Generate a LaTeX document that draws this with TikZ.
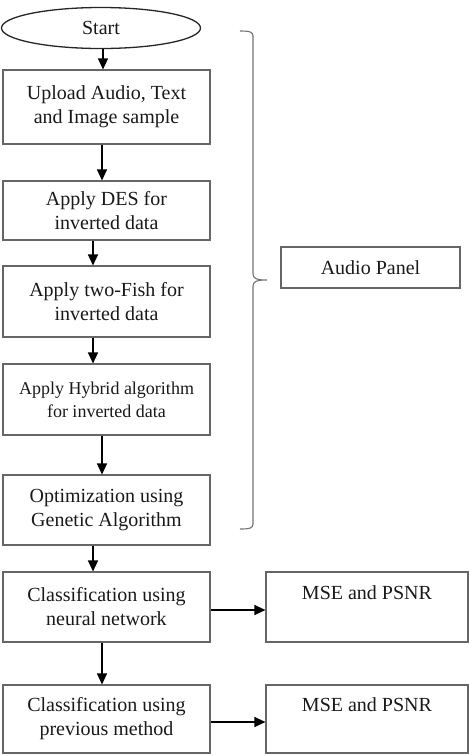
\documentclass[tikz,border=0pt]{standalone}
\usepackage{fontspec}
\setmainfont{Liberation Serif}
\usetikzlibrary{shapes.geometric,arrows.meta}
\begin{document}
\begin{tikzpicture}[x=1pt,y=-1pt,
  box/.style={draw=black!60,line width=1.1pt,rectangle,inner sep=0pt,align=center,
    font=\fontsize{20}{24}\selectfont,text=black!90},
  arr/.style={line width=1.2pt,-{Triangle[width=10pt,length=11pt]}},
  bracepath/.style={draw=black!55,line width=1.1pt}]
\useasboundingbox (0,0) rectangle (469,756);
\node[box,ellipse,draw=black!85,line width=1.3pt,minimum width=199pt,minimum height=41pt] (start) at (101,28) {Start};
\node[box,minimum width=207pt,minimum height=74pt] (b1) at (106.5,107) {Upload Audio, Text\\and Image sample};
\node[box,minimum width=207pt,minimum height=59pt] (b2) at (106.5,210.5) {Apply DES for\\inverted data};
\node[box,minimum width=207pt,minimum height=71pt] (b3) at (106.5,301.5) {Apply two-Fish for\\inverted data};
\node[box,minimum width=207pt,minimum height=71pt,font=\fontsize{18}{23}\selectfont] (b4) at (106.5,399.5) {Apply Hybrid algorithm\\for inverted data};
\node[box,minimum width=207pt,minimum height=70pt] (b5) at (106.5,510) {Optimization using\\Genetic Algorithm};
\node[box,minimum width=207pt,minimum height=70pt] (b6) at (106.5,607) {Classification using\\neural network};
\node[box,minimum width=207pt,minimum height=68pt] (b7) at (106.5,719) {Classification using\\previous method};
\node[box,minimum width=202pt,minimum height=70pt] (m1) at (367,607) {};
\node[font=\fontsize{20}{24}\selectfont,text=black!90] (m1t) at (367,593) {MSE and PSNR};
\node[box,minimum width=202pt,minimum height=68pt] (m2) at (367,719) {};
\node[font=\fontsize{20}{24}\selectfont,text=black!90] (m2t) at (367,705) {MSE and PSNR};
\node[box,minimum width=179pt,minimum height=41pt] (audio) at (370.5,267.5) {Audio Panel};
% arrows
\draw[arr] (start.south -| 103,0) -- (b1.north -| 103,0);
\draw[arr] (b1.south -| 102,0) -- (b2.north -| 102,0);
\draw[arr] (b2.south -| 93,0) -- (b3.north -| 93,0);
\draw[arr] (b3.south -| 93,0) -- (b4.north -| 93,0);
\draw[arr] (b4.south -| 102,0) -- (b5.north -| 102,0);
\draw[arr] (b5.south -| 93,0) -- (b6.north -| 93,0);
\draw[arr] (b6.south -| 102,0) -- (b7.north -| 102,0);
\draw[arr] (b6.east |- 0,610) -- (m1.west |- 0,610);
\draw[arr] (b7.east |- 0,722) -- (m2.west |- 0,722);
% brace
\draw[bracepath] (240,31) .. controls (250,31) and (253,32) .. (253,36)
  -- (253,274) .. controls (253,279) and (258,280) .. (267,280)
  .. controls (258,280) and (253,281) .. (253,286)
  -- (253,524) .. controls (253,528) and (250,529) .. (240,529);
\end{tikzpicture}
\end{document}
